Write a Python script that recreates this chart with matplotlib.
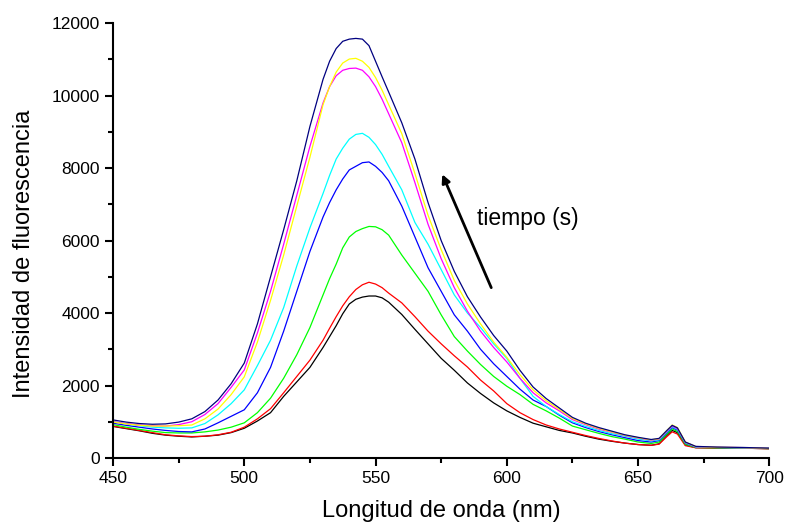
import matplotlib
matplotlib.use("Agg")
import matplotlib.pyplot as plt
from matplotlib.ticker import MultipleLocator

plt.rcParams['font.family'] = ['Liberation Sans', 'DejaVu Sans']

# longitud de onda (nm)
wl = [450, 455, 460, 465, 470, 475, 480, 485, 490, 495,
      500, 505, 510, 515, 520, 525, 530, 532.5, 535, 537.5,
      540, 542.5, 545, 547.5, 550, 552.5, 555, 560, 565, 570,
      575, 580, 585, 590, 595, 600, 605, 610, 615, 620,
      625, 630, 635, 640, 645, 650, 655, 658, 661, 663,
      665, 668, 672, 680, 690, 700]

black = [870, 810, 750, 680, 630, 600, 580, 600, 630, 700,
         820, 1020, 1250, 1700, 2100, 2500, 3050, 3350, 3650, 3980,
         4250, 4380, 4440, 4470, 4470, 4420, 4300, 3960, 3550, 3150,
         2750, 2420, 2070, 1780, 1520, 1300, 1120, 960, 860, 760,
         690, 600, 520, 460, 410, 370, 350, 390, 620, 760,
         700, 360, 285, 275, 270, 255]
red = [880, 820, 760, 700, 640, 610, 590, 600, 640, 710,
       850, 1080, 1360, 1800, 2250, 2700, 3250, 3580, 3900, 4200,
       4450, 4650, 4780, 4850, 4800, 4700, 4550, 4280, 3900, 3500,
       3150, 2820, 2510, 2150, 1850, 1500, 1250, 1060, 910, 800,
       710, 620, 540, 470, 410, 370, 350, 380, 590, 720,
       660, 340, 280, 275, 270, 255]
green = [920, 850, 790, 740, 700, 690, 690, 720, 770, 850,
         970, 1250, 1650, 2200, 2850, 3600, 4500, 4950, 5350, 5800,
         6100, 6250, 6330, 6390, 6380, 6300, 6150, 5600, 5100, 4600,
         3950, 3350, 2950, 2580, 2250, 1980, 1750, 1480, 1300, 1100,
         880, 780, 680, 590, 520, 440, 400, 440, 660, 800,
         730, 380, 290, 280, 275, 260]
blue = [960, 900, 850, 800, 760, 730, 720, 800, 970, 1150,
        1330, 1800, 2500, 3500, 4600, 5700, 6650, 7050, 7400, 7700,
        7950, 8050, 8150, 8170, 8050, 7880, 7650, 6950, 6100, 5250,
        4600, 3950, 3500, 3000, 2600, 2250, 1900, 1600, 1420, 1180,
        970, 840, 730, 640, 560, 480, 440, 480, 700, 840,
        770, 410, 300, 290, 280, 265]
cyan = [1000, 940, 890, 850, 830, 820, 830, 950, 1190, 1500,
        1880, 2550, 3250, 4150, 5300, 6350, 7300, 7800, 8250, 8550,
        8800, 8930, 8960, 8850, 8650, 8380, 8050, 7400, 6500, 5900,
        5200, 4500, 4000, 3600, 3150, 2750, 2200, 1700, 1420, 1200,
        1000, 870, 760, 670, 600, 520, 470, 500, 720, 860,
        790, 420, 305, 290, 280, 265]
magenta = [1000, 950, 910, 890, 880, 920, 1000, 1200, 1500, 1950,
           2430, 3450, 4600, 5900, 7250, 8600, 9800, 10250, 10550, 10700,
           10750, 10760, 10700, 10520, 10250, 9900, 9500, 8700, 7600, 6450,
           5500, 4700, 4050, 3500, 3050, 2650, 2200, 1800, 1520, 1300,
           1060, 920, 800, 710, 620, 550, 490, 520, 740, 880,
           810, 430, 310, 295, 285, 265]
yellow = [990, 940, 900, 880, 880, 890, 910, 1080, 1350, 1750,
          2240, 3200, 4350, 5600, 6950, 8300, 9750, 10250, 10650, 10900,
          11010, 11030, 10950, 10780, 10500, 10150, 9750, 8950, 7850, 6700,
          5750, 4900, 4250, 3700, 3200, 2780, 2300, 1880, 1580, 1340,
          1090, 940, 820, 720, 630, 560, 500, 530, 760, 910,
          840, 440, 315, 295, 285, 265]
navy = [1050, 990, 950, 930, 940, 990, 1080, 1280, 1600, 2050,
        2620, 3700, 5000, 6300, 7650, 9150, 10450, 10950, 11300, 11500,
        11560, 11580, 11560, 11380, 10950, 10520, 10100, 9250, 8250, 7050,
        6000, 5150, 4450, 3890, 3380, 2950, 2420, 1960, 1640, 1380,
        1120, 960, 840, 740, 640, 570, 510, 540, 760, 900,
        830, 440, 320, 300, 290, 270]

series = [black, red, green, blue, cyan, magenta, yellow, navy]
colors = ['#000000', '#ff0000', '#00ff00', '#0000ff', '#00ffff',
          '#ff00ff', '#ffff00', '#000080']

fig = plt.figure(figsize=(7.85, 5.27), dpi=100)
ax = fig.add_axes([0.144, 0.131, 0.836, 0.825])

for s, c in zip(series, colors):
    ax.plot(wl, s, color=c, lw=0.9)

ax.set_xlim(450, 700)
ax.set_ylim(0, 12000)
ax.xaxis.set_major_locator(MultipleLocator(50))
ax.xaxis.set_minor_locator(MultipleLocator(25))
ax.yaxis.set_major_locator(MultipleLocator(2000))
ax.yaxis.set_minor_locator(MultipleLocator(1000))

for side in ['top', 'right']:
    ax.spines[side].set_visible(False)
for side in ['left', 'bottom']:
    ax.spines[side].set_linewidth(1.5)
ax.tick_params(which='major', direction='out', length=6, width=1.5, labelsize=12.5)
ax.tick_params(which='minor', direction='out', length=3.5, width=1.5)

ax.set_xlabel('Longitud de onda (nm)', fontsize=17, labelpad=10)
ax.set_ylabel('Intensidad de fluorescencia', fontsize=17, labelpad=12)
ax.yaxis.label.set_y(0.47)

ax.annotate('', xy=(575, 7900), xytext=(594.5, 4630),
            arrowprops=dict(arrowstyle='-|>', color='black', lw=2,
                            mutation_scale=12))
ax.text(588.5, 6620, 'tiempo (s)', fontsize=16.5, va='center', ha='left')

fig.savefig('out.png', dpi=100)
